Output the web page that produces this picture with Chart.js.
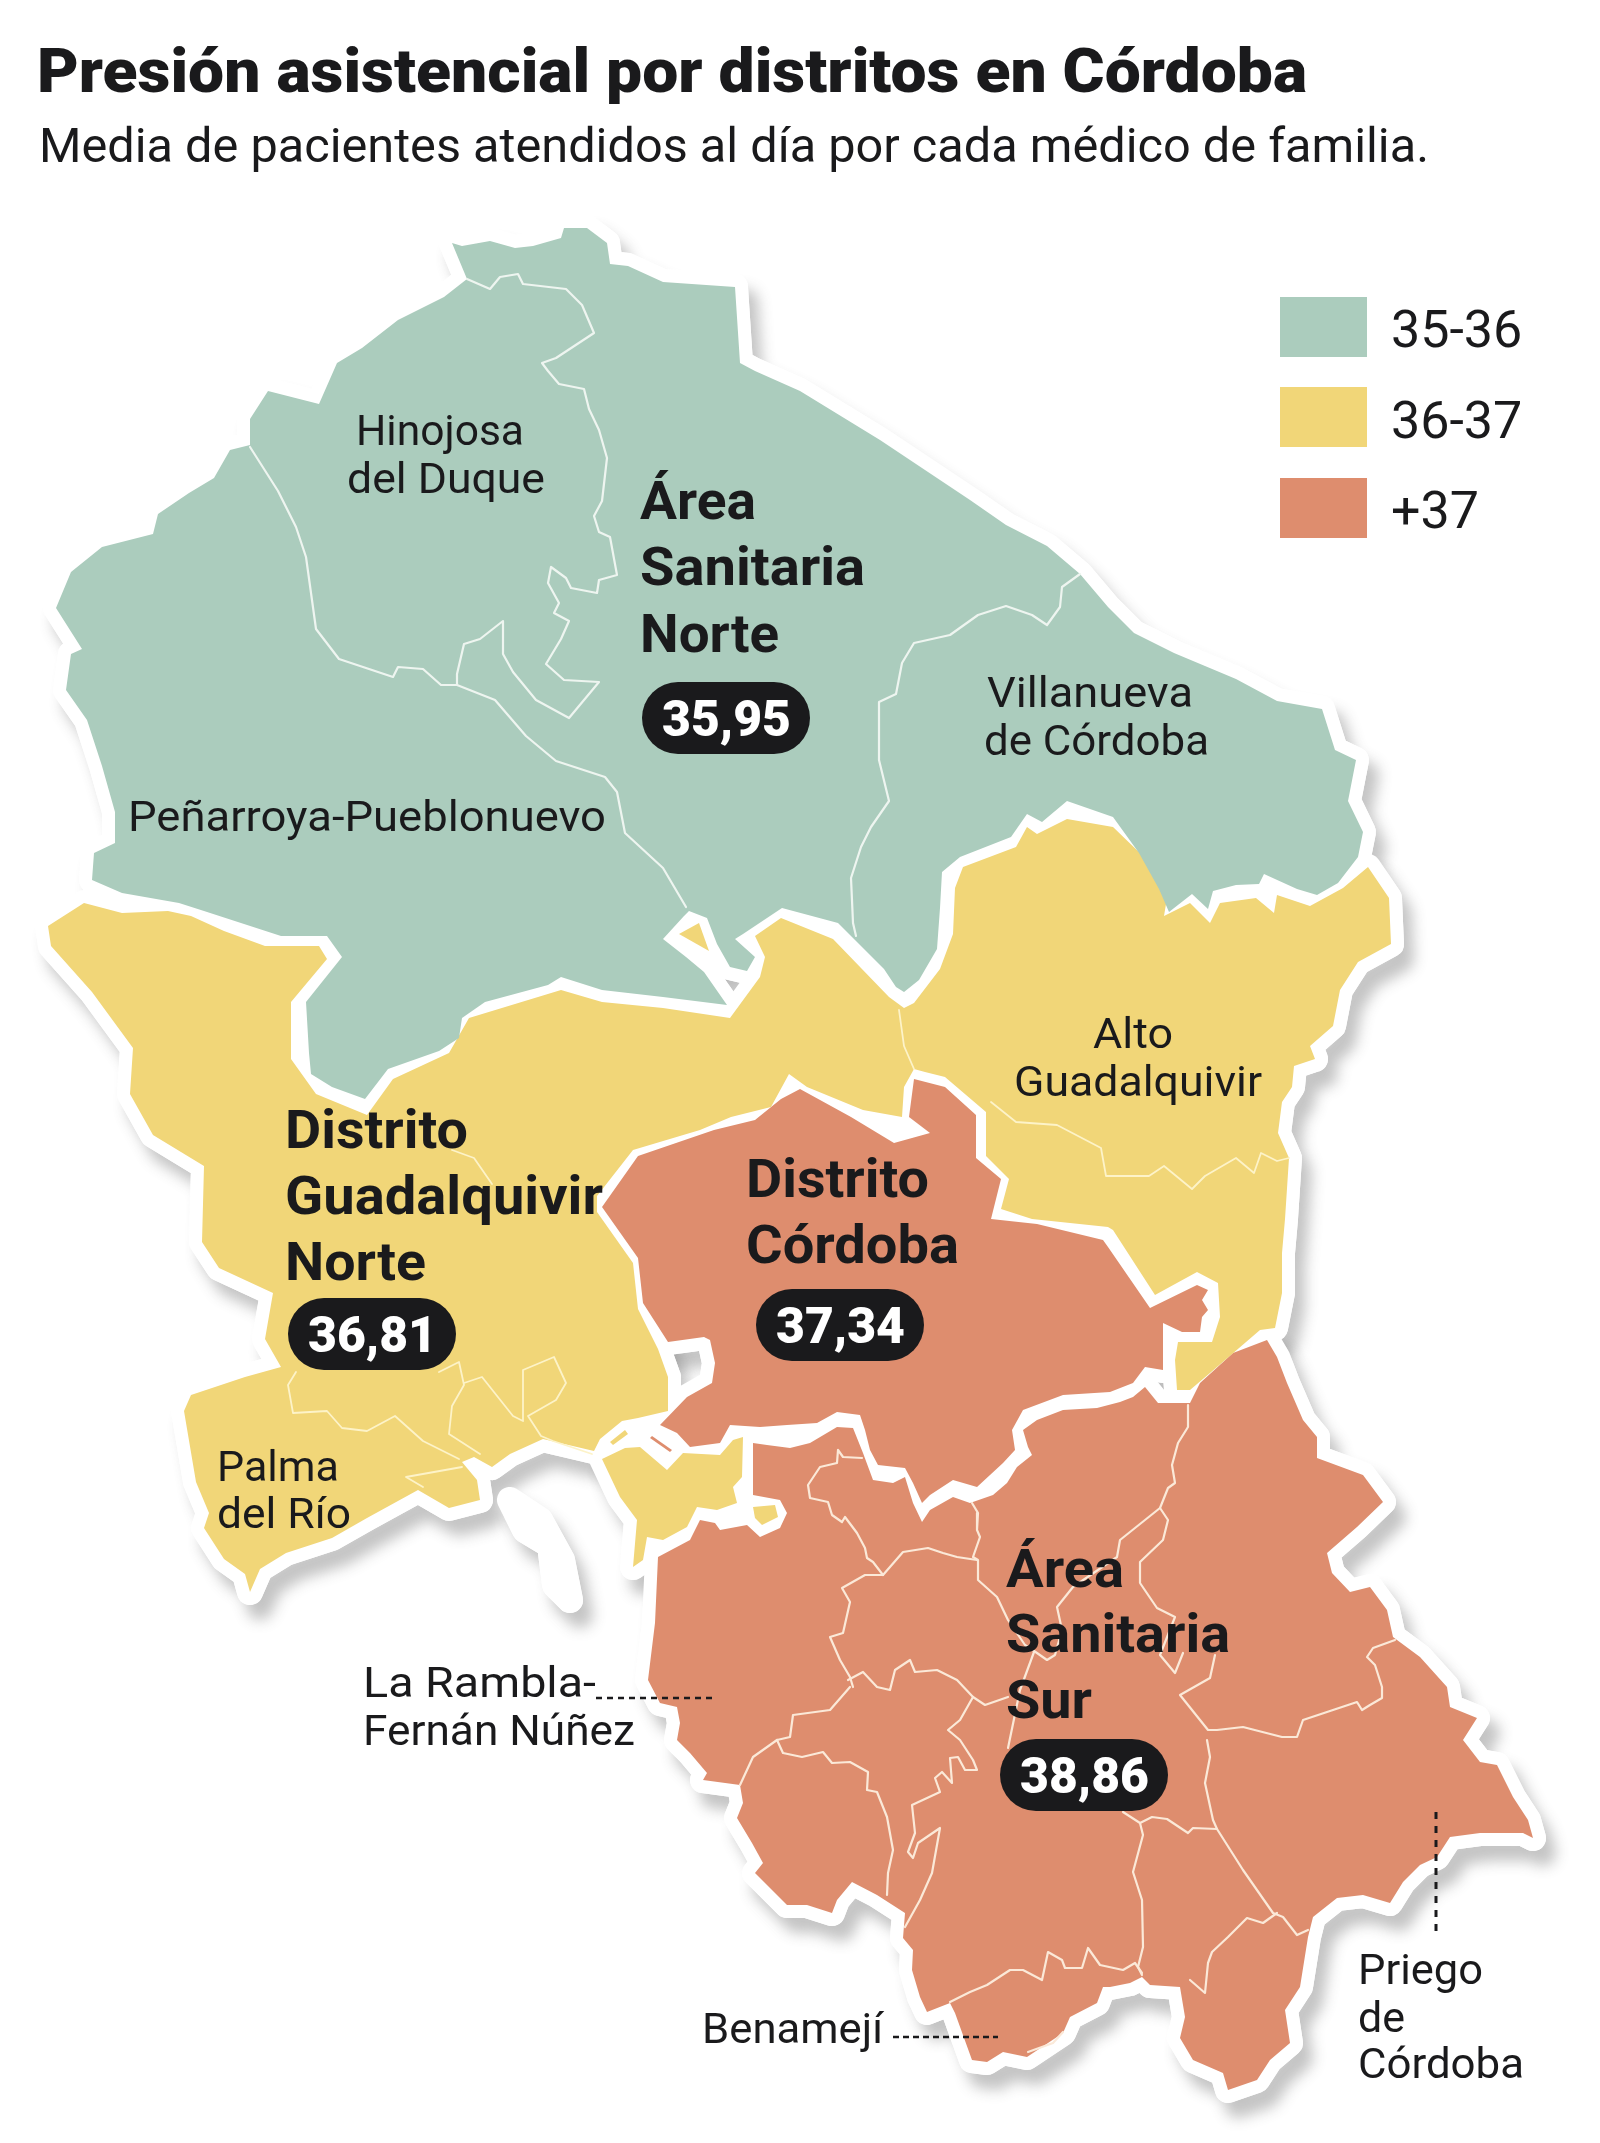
<!DOCTYPE html>
<html lang="es">
<head>
<meta charset="utf-8">
<title>Presión asistencial por distritos en Córdoba</title>
<script src="https://cdn.jsdelivr.net/npm/chart.js@4/dist/chart.umd.min.js"></script>
<style>
    html, body { margin: 0; padding: 0; background: #fff; }
    #page { position: relative; width: 1600px; height: 2143px; overflow: hidden; color: #1a1a1c; font-family: Roboto, sans-serif; }
    #mapa { position: absolute; left: 0; top: 0; }
    h1, h2 { position: absolute; margin: 0; white-space: nowrap; transform-origin: 0 0; }
    h1 { left: 37px; top: 35px; font-size: 62px; line-height: 72px; font-weight: 900; }
    h2 { left: 39px; top: 117px; font-size: 49px; line-height: 58px; font-weight: 400; }
    .clave { position: absolute; left: 1280px; width: 87px; height: 60px; }
    .rango { position: absolute; left: 1391px; font-size: 52px; line-height: 60px; }
</style>
</head>
<body>
<div id="page">
    <canvas id="mapa" width="1600" height="2143"></canvas>
    <h1 id="titulo">Presión asistencial por distritos en Córdoba</h1>
    <h2 id="subtitulo">Media de pacientes atendidos al día por cada médico de familia.</h2>
    <div class="clave" style="top:297px;background:#abccbd"></div>
    <div class="rango" style="top:300px">35-36</div>
    <div class="clave" style="top:387px;background:#f1d678"></div>
    <div class="rango" style="top:391px">36-37</div>
    <div class="clave" style="top:478px;background:#de8d6e"></div>
    <div class="rango" style="top:481px">+37</div>
</div>
<script>
// --- DATOS ---
const DISTRITOS = ['Área Sanitaria Norte', 'Distrito Guadalquivir Norte', 'Distrito Córdoba', 'Área Sanitaria Sur'];
const PRESION = [35.95, 36.81, 37.34, 38.86];

// Contornos de cada distrito, en coordenadas del mapa
const NORTE = [[452,243],[462,246],[490,241],[515,248],[533,246],[561,238],[564,228],[587,228],[607,243],[610,264],[628,266],[663,282],[735,287],[740,363],[755,371],[800,391],[880,440],[970,500],[1006,525],[1047,546],[1080,574],[1108,607],[1134,633],[1174,653],[1236,679],[1277,701],[1322,709],[1335,750],[1356,760],[1348,801],[1363,832],[1358,857],[1338,883],[1317,895],[1297,889],[1264,874],[1259,884],[1236,885],[1213,891],[1208,909],[1192,894],[1169,912],[1159,889],[1139,853],[1113,817],[1067,801],[1042,822],[1027,814],[1011,837],[960,857],[942,872],[940,908],[937,949],[919,980],[904,992],[896,987],[884,969],[838,923],[782,908],[743,934],[735,939],[755,957],[747,971],[730,967],[717,944],[707,918],[689,911],[684,916],[663,939],[686,957],[704,972],[727,1005],[663,997],[602,990],[561,977],[548,985],[485,1002],[462,1018],[459,1038],[439,1051],[388,1069],[365,1099],[332,1087],[311,1074],[309,1053],[306,1002],[342,957],[327,936],[281,936],[204,911],[179,903],[122,893],[92,880],[94,853],[115,843],[115,812],[102,766],[87,720],[66,690],[71,654],[82,649],[56,608],[71,572],[102,547],[153,534],[158,514],[189,493],[214,478],[230,450],[250,445],[250,419],[268,391],[319,404],[337,363],[362,348],[398,320],[444,297],[467,279]];
const GUADALQUIVIR = [[48,926],[84,903],[122,913],[168,911],[191,916],[224,931],[265,946],[319,946],[327,959],[291,1002],[291,1059],[316,1094],[367,1115],[393,1079],[449,1053],[469,1018],[561,990],[602,1002],[663,1008],[730,1018],[760,977],[765,957],[755,936],[781,918],[833,939],[889,997],[904,1008],[914,1003],[940,969],[953,934],[955,888],[963,867],[1016,847],[1027,827],[1037,834],[1067,819],[1113,827],[1144,857],[1167,898],[1164,916],[1190,903],[1210,923],[1220,903],[1256,898],[1274,913],[1277,895],[1310,906],[1343,888],[1368,867],[1389,898],[1391,944],[1358,962],[1340,990],[1333,1026],[1310,1046],[1315,1059],[1294,1066],[1292,1087],[1282,1102],[1278,1133],[1289,1158],[1285,1219],[1282,1253],[1282,1293],[1275,1328],[1260,1330],[1210,1373],[1190,1390],[1177,1390],[1175,1360],[1178,1342],[1212,1342],[1220,1317],[1218,1283],[1197,1272],[1155,1295],[1113,1230],[1108,1227],[1032,1219],[1001,1209],[1009,1179],[986,1156],[986,1112],[945,1077],[925,1072],[914,1069],[904,1087],[902,1117],[863,1110],[807,1087],[789,1074],[771,1107],[731,1117],[700,1130],[633,1150],[597,1196],[597,1212],[633,1263],[638,1309],[658,1349],[668,1377],[668,1411],[638,1418],[622,1421],[600,1439],[594,1451],[543,1439],[510,1454],[492,1467],[474,1457],[462,1462],[477,1480],[480,1500],[449,1508],[418,1490],[367,1518],[332,1538],[286,1553],[260,1569],[250,1592],[245,1574],[224,1559],[204,1528],[209,1513],[196,1482],[184,1411],[191,1395],[245,1377],[281,1367],[265,1339],[273,1293],[219,1268],[202,1242],[204,1166],[153,1135],[130,1094],[133,1048],[92,992],[51,946]];
const GUADALQUIVIR_BAJO = [[602,1459],[625,1448],[640,1447],[667,1470],[683,1453],[720,1455],[733,1440],[743,1437],[742,1477],[733,1487],[737,1503],[717,1510],[697,1507],[687,1527],[663,1540],[647,1537],[643,1560],[633,1567],[637,1520],[620,1497]];
const CORDOBA = [[602,1207],[638,1156],[714,1130],[755,1120],[781,1099],[800,1089],[851,1117],[894,1143],[930,1133],[909,1117],[914,1079],[945,1087],[976,1115],[976,1158],[1001,1179],[991,1219],[1037,1224],[1103,1240],[1108,1247],[1150,1308],[1197,1285],[1208,1290],[1202,1300],[1208,1310],[1202,1317],[1200,1332],[1182,1332],[1163,1323],[1163,1370],[1145,1367],[1133,1383],[1110,1392],[1063,1395],[1023,1410],[1012,1430],[1015,1450],[1003,1463],[990,1475],[977,1487],[953,1480],[930,1495],[922,1503],[913,1483],[905,1468],[878,1465],[870,1450],[865,1430],[860,1415],[837,1412],[817,1423],[787,1425],[760,1427],[730,1425],[720,1443],[690,1447],[677,1433],[660,1425],[687,1397],[712,1383],[715,1363],[710,1340],[704,1337],[668,1342],[643,1303],[638,1258]];
const SUR = [[658,1557],[690,1540],[700,1520],[715,1523],[720,1530],[747,1525],[760,1537],[780,1528],[787,1513],[780,1500],[753,1495],[753,1443],[767,1445],[790,1448],[810,1443],[837,1427],[853,1428],[863,1453],[873,1480],[893,1483],[905,1477],[913,1503],[922,1522],[930,1510],[953,1497],[970,1503],[993,1495],[1007,1483],[1017,1467],[1032,1455],[1028,1447],[1023,1430],[1037,1420],[1063,1410],[1097,1408],[1120,1402],[1133,1397],[1145,1387],[1158,1403],[1190,1403],[1200,1383],[1233,1353],[1267,1340],[1277,1357],[1287,1383],[1303,1420],[1317,1437],[1317,1458],[1363,1475],[1383,1502],[1357,1527],[1327,1553],[1332,1573],[1350,1592],[1370,1587],[1387,1610],[1393,1637],[1420,1657],[1447,1687],[1450,1707],[1477,1718],[1463,1740],[1480,1762],[1497,1765],[1513,1797],[1528,1820],[1533,1838],[1523,1833],[1480,1833],[1450,1837],[1437,1857],[1420,1865],[1403,1882],[1390,1903],[1363,1895],[1337,1898],[1313,1917],[1308,1937],[1300,1987],[1285,2010],[1290,2043],[1270,2060],[1257,2080],[1228,2090],[1223,2073],[1193,2060],[1180,2038],[1185,2017],[1180,1987],[1150,1985],[1142,1977],[1130,1983],[1110,1987],[1103,1987],[1097,2003],[1070,2017],[1063,2033],[1027,2057],[1003,2052],[987,2062],[972,2060],[955,2013],[950,2003],[927,2012],[920,1997],[912,1970],[913,1950],[903,1938],[905,1913],[877,1895],[852,1882],[837,1900],[832,1913],[807,1905],[787,1905],[755,1873],[763,1863],[752,1843],[737,1818],[743,1803],[740,1785],[703,1780],[707,1773],[690,1753],[677,1740],[680,1723],[677,1707],[660,1703],[648,1680],[655,1623]];

// Islotes y enclaves
const ISLOTE_AMARILLO_1 = [[679,934],[699,923],[709,951]];
const ISLOTE_AMARILLO_2 = [[753,1507],[775,1505],[778,1517],[762,1525],[755,1518]];
const ISLOTE_AMARILLO_3 = [[610,1442],[625,1430],[628,1434],[613,1445]];
const ISLOTE_NARANJA = [[652,1436],[672,1450],[670,1452],[650,1438]];
const ISLOTE_BLANCO = [[510,1500],[525,1530],[550,1545],[555,1585],[570,1600],[562,1560],[540,1520]];

// Límites internos de las zonas básicas
const LIMITES_NORTE = [
    [[467,279],[490,289],[500,277],[518,274],[523,284],[566,289],[582,305],[594,333],[556,358],[542,363],[548,371],[559,384],[584,389],[589,409],[599,430],[607,458],[602,501],[594,516],[599,532],[610,537],[617,575],[599,580],[597,593],[571,588],[566,578],[551,567],[548,583],[559,603],[554,613],[569,621],[561,639],[546,664],[564,680],[599,682],[569,718],[536,700],[513,672],[503,654],[503,621],[480,639],[464,644],[457,674],[457,685]],
    [[250,447],[278,491],[296,527],[306,557],[316,629],[339,659],[393,677],[398,667],[423,669],[441,685],[457,685],[495,700],[526,736],[556,761],[605,777],[617,792],[625,833],[663,868],[686,907]],
    [[1080,574],[1062,587],[1060,607],[1047,625],[1032,615],[1006,606],[978,615],[950,635],[914,643],[902,663],[896,694],[879,702],[879,760],[889,801],[871,827],[861,847],[851,878],[853,923],[856,936]]
];
const LIMITES_GUADALQUIVIR = [
    [[899,1010],[904,1046],[914,1069]],
    [[991,1102],[1016,1122],[1057,1125],[1101,1148],[1106,1176],[1149,1176],[1164,1166],[1192,1189],[1205,1176],[1236,1158],[1254,1173],[1261,1153],[1277,1161],[1289,1158]],
    [[452,1150],[474,1158],[492,1184]],
    [[296,1372],[288,1385],[293,1413],[327,1411],[342,1428],[367,1431],[395,1416],[423,1441],[459,1459]],
    [[439,1372],[459,1362],[464,1385],[452,1406],[449,1434],[480,1454]],
    [[464,1383],[482,1377],[513,1416],[523,1421],[523,1370],[554,1357],[566,1383],[556,1400],[528,1416],[541,1436],[553,1441],[592,1454]],
    [[423,1487],[406,1477],[462,1467]]
];
const LIMITES_SUR = [
    [[862,1458],[843,1457],[838,1450],[837,1463],[820,1467],[808,1485],[810,1498],[828,1502],[832,1515],[842,1522],[845,1517],[857,1533],[865,1548],[867,1558],[873,1562],[883,1575]],
    [[972,1503],[978,1513],[977,1530],[980,1537],[973,1557],[978,1560],[978,1580],[997,1597],[1008,1620],[1025,1645],[1037,1653],[1047,1660],[1055,1655],[1062,1630],[1057,1607],[1073,1587],[1117,1557],[1120,1540],[1160,1508],[1168,1488],[1175,1483],[1172,1465],[1178,1443],[1188,1427],[1188,1405]],
    [[883,1575],[903,1552],[928,1548],[943,1553],[957,1557],[977,1560]],
    [[883,1575],[865,1575],[842,1588],[850,1602],[843,1633],[830,1637],[840,1660],[850,1677],[853,1687]],
    [[848,1680],[863,1672],[877,1687],[890,1690],[895,1670],[910,1660],[915,1672],[937,1670],[957,1680],[973,1697],[985,1705],[1008,1697]],
    [[973,1697],[960,1720],[948,1730],[960,1740],[973,1760],[977,1770],[965,1770],[958,1757],[950,1758],[952,1783],[942,1772],[935,1778],[940,1792],[912,1805],[915,1833],[908,1852],[913,1858],[918,1843],[940,1828],[932,1873],[920,1900],[905,1927]],
    [[777,1740],[753,1757],[740,1785]],
    [[777,1740],[783,1753],[802,1757],[823,1752],[832,1763],[850,1762],[868,1772],[867,1790],[877,1792],[887,1817],[893,1850],[888,1873],[887,1895]],
    [[850,1687],[830,1710],[793,1715],[790,1737],[777,1740]],
    [[950,2002],[970,1992],[987,1985],[1010,1970],[1023,1970],[1042,1980],[1048,1952],[1062,1960],[1065,1968],[1082,1968],[1088,1948],[1100,1965],[1123,1970],[1135,1963],[1142,1973]],
    [[1028,2052],[1053,2043],[1063,2032]],
    [[1123,1812],[1140,1823],[1143,1835],[1133,1872],[1142,1900],[1143,1947],[1138,1967],[1142,1975]],
    [[1140,1823],[1152,1817],[1167,1819],[1188,1833],[1193,1828],[1217,1829]],
    [[1207,1740],[1210,1757],[1205,1783],[1213,1820],[1217,1829],[1243,1870],[1273,1913],[1283,1917],[1297,1935],[1308,1930]],
    [[1277,1913],[1263,1923],[1247,1918],[1228,1937],[1212,1952],[1208,1963],[1205,1993],[1190,1980]],
    [[1160,1508],[1168,1520],[1163,1540],[1140,1562],[1140,1583],[1157,1608],[1175,1617],[1160,1655],[1175,1673],[1183,1653]],
    [[1215,1655],[1210,1678],[1180,1695],[1208,1730],[1217,1730],[1243,1727],[1282,1737],[1297,1737],[1303,1720],[1357,1702],[1362,1710],[1370,1705],[1382,1698],[1382,1687],[1375,1665],[1367,1657],[1373,1648],[1395,1640]],
    [[1034,1652],[1020,1690],[1008,1748]]
];

// Líneas guía de las etiquetas
const GUIAS = [
    { puntos: [[596,1698],[717,1698]], ancho: 2.5, trazo: [6, 5] },
    { puntos: [[893,2037],[998,2037]], ancho: 2.5, trazo: [6, 4] },
    { puntos: [[1436,1812],[1436,1935]], ancho: 3, trazo: [7, 7] }
];

// --- COLORES ---
const VERDE = '#abccbd';
const AMARILLO = '#f1d678';
const NARANJA = '#de8d6e';
const colorDe = v => v < 36 ? VERDE : v < 37 ? AMARILLO : NARANJA;

const REGIONES = [
    { contorno: NORTE, color: colorDe(PRESION[0]) },
    { contorno: GUADALQUIVIR, color: colorDe(PRESION[1]) },
    { contorno: GUADALQUIVIR_BAJO, color: colorDe(PRESION[1]) },
    { contorno: ISLOTE_AMARILLO_1, color: AMARILLO },
    { contorno: ISLOTE_AMARILLO_2, color: AMARILLO },
    { contorno: ISLOTE_AMARILLO_3, color: AMARILLO },
    { contorno: ISLOTE_BLANCO, color: '#ffffff' },
    { contorno: CORDOBA, color: colorDe(PRESION[2]) },
    { contorno: ISLOTE_NARANJA, color: NARANJA },
    { contorno: SUR, color: colorDe(PRESION[3]) }
];

const aPuntos = lista => lista.map(p => ({ x: p[0], y: p[1] }));
const cerrar = lista => aPuntos(lista.concat([lista[0]]));
const baseLinea = { showLine: true, pointRadius: 0, tension: 0, borderJoinStyle: 'round', borderCapStyle: 'round', clip: false };

const datasets = [];

// 1. Halo blanco con sombra, debajo de todo
REGIONES.forEach(r => datasets.push({ ...baseLinea, data: cerrar(r.contorno), order: 50, fill: false, borderColor: '#fff', borderWidth: 26, sombra: true }));
// 2. Halo blanco sin sombra, tapa la sombra entre distritos
REGIONES.forEach(r => datasets.push({ ...baseLinea, data: cerrar(r.contorno), order: 40, fill: 'shape', backgroundColor: '#fff', borderColor: '#fff', borderWidth: 26 }));
// 3. Relleno de cada distrito
REGIONES.forEach(r => datasets.push({ ...baseLinea, data: cerrar(r.contorno), order: 30, fill: 'shape', backgroundColor: r.color, borderWidth: 0 }));
// 4. Límites internos
LIMITES_NORTE.forEach(l => datasets.push({ ...baseLinea, data: aPuntos(l), order: 20, fill: false, borderColor: '#eef5f0', borderWidth: 2.2 }));
LIMITES_GUADALQUIVIR.forEach(l => datasets.push({ ...baseLinea, data: aPuntos(l), order: 20, fill: false, borderColor: '#fdf3c8', borderWidth: 1.8 }));
LIMITES_SUR.forEach(l => datasets.push({ ...baseLinea, data: aPuntos(l), order: 20, fill: false, borderColor: '#fbe9d8', borderWidth: 2.2 }));
// 5. Guías punteadas
GUIAS.forEach(g => datasets.push({ ...baseLinea, data: aPuntos(g.puntos), order: 10, fill: false, borderColor: '#1a1a1c', borderWidth: g.ancho, borderDash: g.trazo, borderCapStyle: 'butt' }));

// --- ETIQUETAS ---
const NOMBRE = '43px Roboto';
const FUERTE = 'bold 54px Roboto';
const ETIQUETAS = [
    ['Hinojosa', 356, 445, 168, NOMBRE],
    ['del Duque', 347, 493, 198, NOMBRE],
    ['Peñarroya-Pueblonuevo', 128, 831, 478, NOMBRE],
    ['Villanueva', 987, 707, 206, NOMBRE],
    ['de Córdoba', 984, 755, 225, NOMBRE],
    ['Alto', 1093, 1048, 80, NOMBRE],
    ['Guadalquivir', 1014, 1096, 248, NOMBRE],
    ['Palma', 217, 1481, 122, NOMBRE],
    ['del Río', 217, 1528, 134, NOMBRE],
    ['La Rambla-', 363, 1697, 233, NOMBRE],
    ['Fernán Núñez', 363, 1745, 272, NOMBRE],
    ['Benamejí', 702, 2043, 181, NOMBRE],
    ['Priego', 1358, 1984, 125, NOMBRE],
    ['de', 1358, 2032, 47, NOMBRE],
    ['Córdoba', 1358, 2078, 166, NOMBRE],
    ['Área', 640, 519, 116, FUERTE],
    ['Sanitaria', 640, 585, 225, FUERTE],
    ['Norte', 640, 652, 139, FUERTE],
    ['Distrito', 285, 1148, 183, FUERTE],
    ['Guadalquivir', 285, 1214, 318, FUERTE],
    ['Norte', 285, 1280, 141, FUERTE],
    ['Distrito', 746, 1197, 183, FUERTE],
    ['Córdoba', 746, 1263, 213, FUERTE],
    ['Área', 1006, 1587, 118, FUERTE],
    ['Sanitaria', 1006, 1652, 224, FUERTE],
    ['Sur', 1006, 1718, 86, FUERTE]
];
const PASTILLAS = [
    { x: 726, y: 718 },
    { x: 372, y: 1334 },
    { x: 840, y: 1325 },
    { x: 1084, y: 1775 }
];

// Sombra solo en el primer pase
const pluginSombra = {
    id: 'sombra',
    beforeDatasetDraw(chart, args) {
        const ctx = chart.ctx;
        ctx.save();
        if (chart.data.datasets[args.index].sombra) {
            ctx.shadowColor = 'rgba(70, 70, 70, 0.32)';
            ctx.shadowBlur = 14;
            ctx.shadowOffsetX = 10;
            ctx.shadowOffsetY = 15;
        }
    },
    afterDatasetDraw(chart) {
        chart.ctx.restore();
    }
};

const pluginEtiquetas = {
    id: 'etiquetas',
    afterDatasetsDraw(chart) {
        const { ctx, scales } = chart;
        const escribir = (texto, x, y, ancho, fuente, color) => {
            ctx.save();
            ctx.font = fuente;
            ctx.fillStyle = color;
            ctx.textAlign = 'left';
            ctx.textBaseline = 'alphabetic';
            ctx.translate(scales.x.getPixelForValue(x), scales.y.getPixelForValue(y));
            ctx.scale(ancho / ctx.measureText(texto).width, 1);
            ctx.fillText(texto, 0, 0);
            ctx.restore();
        };
        ETIQUETAS.forEach(e => escribir(e[0], e[1], e[2], e[3], e[4], '#1a1a1c'));

        PRESION.forEach((v, i) => {
            const cx = scales.x.getPixelForValue(PASTILLAS[i].x);
            const cy = scales.y.getPixelForValue(PASTILLAS[i].y);
            ctx.save();
            ctx.fillStyle = '#1a1a1c';
            ctx.beginPath();
            ctx.roundRect(cx - 84, cy - 36, 168, 72, 36);
            ctx.fill();
            ctx.restore();
            escribir(v.toFixed(2).replace('.', ','), PASTILLAS[i].x - 64, PASTILLAS[i].y + 18, 129, '900 50px Roboto', '#ffffff');
        });
    }
};

new Chart(document.getElementById('mapa'), {
    type: 'scatter',
    data: { datasets },
    options: {
        responsive: false,
        animation: false,
        devicePixelRatio: 1,
        layout: { padding: 0 },
        plugins: { legend: { display: false }, tooltip: { enabled: false } },
        scales: {
            x: { type: 'linear', display: false, min: 0, max: 1600 },
            y: { type: 'linear', display: false, min: 0, max: 2143, reverse: true }
        }
    },
    plugins: [pluginSombra, pluginEtiquetas]
});

// Ajuste del ancho del título al de la referencia
const ajustar = (id, ancho) => {
    const el = document.getElementById(id);
    el.style.transform = 'scaleX(' + (ancho / el.getBoundingClientRect().width) + ')';
};
ajustar('titulo', 1270);
ajustar('subtitulo', 1390);
</script>
</body>
</html>
